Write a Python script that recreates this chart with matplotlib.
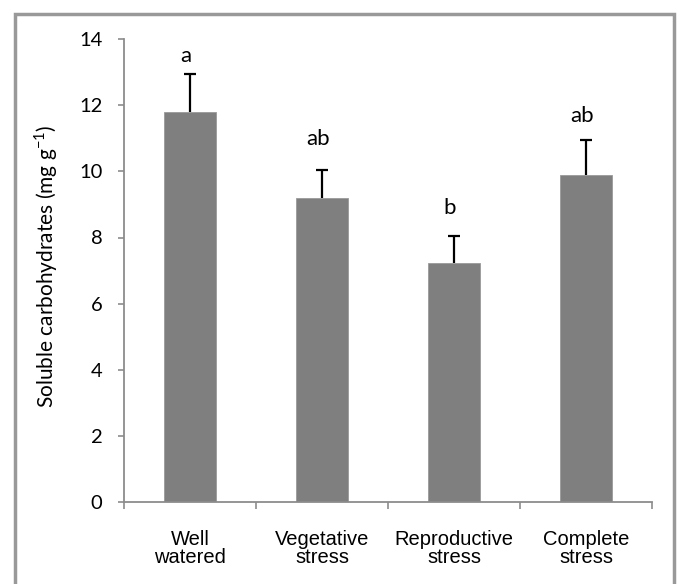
import matplotlib.pyplot as plt
from matplotlib.patches import Rectangle

# datos
categorias = ["Well\nwatered", "Vegetative\nstress", "Reproductive\nstress", "Complete\nstress"]
medias = [11.80, 9.18, 7.23, 9.88]
errores = [1.14, 0.87, 0.83, 1.07]
letras = ["a", "ab", "b", "ab"]
pos_letras = [13.29, 10.78, 8.70, 11.48]

GRIS_EJE = '#8c8c8c'

fig = plt.figure(figsize=(6.79, 5.84), dpi=100)
ax = fig.add_axes([124 / 679, 81.7 / 584, 528 / 679, 463.4 / 584])

x = list(range(len(categorias)))
ax.bar(x, medias, width=0.4, color='#7f7f7f', edgecolor='#9a9a9a',
       linewidth=0.6, zorder=2)
_, caps, _ = ax.errorbar(x, medias, yerr=[[0] * len(errores), errores],
                         fmt='none', ecolor='black', elinewidth=1.6,
                         capsize=4.5, capthick=1.6, zorder=3)
caps[0].set_visible(False)   # solo la barra hacia arriba

for xi, letra, yl in zip(x, letras, pos_letras):
    ax.text(xi - 0.03, yl, letra, ha='center', va='baseline',
            fontsize=16, family='Lato')

ax.set_xlim(-0.5, 3.5)
ax.set_ylim(0, 14)
ax.set_yticks(range(0, 15, 2))
ax.set_xticks(x)
ax.set_xticklabels(categorias, family='Liberation Sans', fontsize=14.5,
                   linespacing=0.92)
ax.set_xticks([-0.5, 0.5, 1.5, 2.5, 3.5], minor=True)
ax.tick_params(axis='x', which='major', length=0, pad=20)
ax.tick_params(axis='x', which='minor', length=5, width=1.2,
               color=GRIS_EJE, direction='out')
ax.tick_params(axis='y', length=4.5, width=1.2, color=GRIS_EJE,
               direction='out', pad=11, labelsize=14.5)
for lab in ax.get_yticklabels():
    lab.set_family('Lato')

for lado in ['top', 'right']:
    ax.spines[lado].set_visible(False)
for lado in ['left', 'bottom']:
    ax.spines[lado].set_color(GRIS_EJE)
    ax.spines[lado].set_linewidth(1.3)

ax.set_ylabel('Soluble carbohydrates (mg g$^{\\mathregular{-1}}$)',
              family='Lato', fontsize=15)
ax.yaxis.set_label_coords(-0.121, 0.51)

# marco gris exterior (el borde inferior queda fuera de la imagen)
marco = Rectangle((14.5 / 679, -0.05), (673.5 - 14.5) / 679, 1.05 - 13.5 / 584,
                  transform=fig.transFigure, fill=False,
                  edgecolor='#999999', linewidth=2.5)
fig.patches.append(marco)

fig.savefig('out.png', dpi=100)
